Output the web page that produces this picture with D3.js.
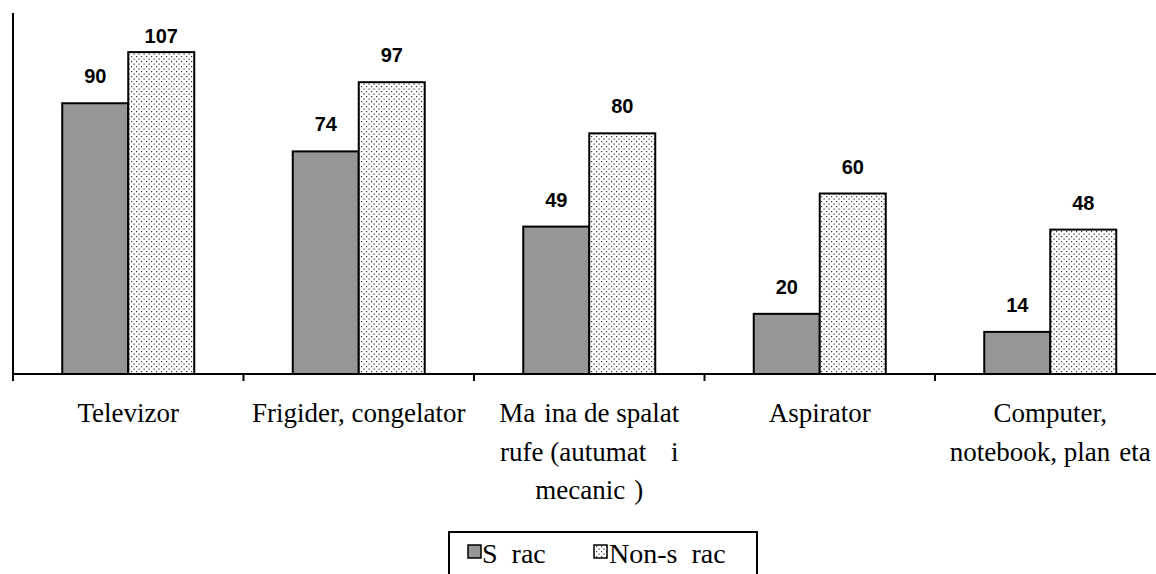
<!DOCTYPE html>
<html>
<head>
<meta charset="utf-8">
<script src="https://cdnjs.cloudflare.com/ajax/libs/d3/7.8.5/d3.min.js"></script>
<style>
  html, body { margin: 0; padding: 0; background: #fff; }
  svg { display: block; }
  .cat { font-family: "Liberation Serif", "Times New Roman", serif; font-size: 27px; fill: #000; white-space: pre; }
  .val { font-family: "Liberation Sans", Arial, sans-serif; font-weight: bold; font-size: 20px; fill: #000; }
  .leg { font-family: "Liberation Serif", "Times New Roman", serif; font-size: 28px; fill: #000; white-space: pre; }
</style>
</head>
<body>
<svg id="chart" width="1156" height="574"></svg>
<script>
// ---- data ----
const categories = [
  "Televizor",
  "Frigider, congelator",
  "Ma\u2004ina de spalat\nrufe (autumat\u2004 \u2004i\nmecanic\u2004)",
  "Aspirator",
  "Computer,\nnotebook, plan\u2004eta"
];
const seriesNames = ["S\u2002rac", "Non-s\u2002rac"];
const saracValues = [90, 74, 49, 20, 14];
const nonSaracValues = [107, 97, 80, 60, 48];
const yDomain = [0, 120];

// ---- layout ----
const svg = d3.select("#chart");
const x0 = 13, band = 230.5;
const baseY = 374, topY = 13;

const x = d3.scaleBand().domain(categories).range([x0, x0 + band * categories.length]).paddingInner(0).paddingOuter(0);
const y = d3.scaleLinear().domain(yDomain).range([baseY, topY]);
const barW = 66;

// pattern
const defs = svg.append("defs");
const pat = defs.append("pattern").attr("id", "dots").attr("patternUnits", "userSpaceOnUse")
  .attr("width", 5).attr("height", 5);
pat.append("rect").attr("width", 5).attr("height", 5).attr("fill", "#fff");
pat.append("rect").attr("x", 1).attr("y", 1).attr("width", 1.2).attr("height", 1.2).attr("fill", "#333");
pat.append("rect").attr("x", 3.5).attr("y", 3.5).attr("width", 1.2).attr("height", 1.2).attr("fill", "#333");

const series = [
  { name: seriesNames[0], values: saracValues, fill: "#969696", offset: -1 },
  { name: seriesNames[1], values: nonSaracValues, fill: "url(#dots)", offset: 0 }
];

series.forEach(s => {
  const g = svg.append("g");
  g.selectAll("rect").data(categories).join("rect")
    .attr("x", (d) => x(d) + x.bandwidth() / 2 + s.offset * barW)
    .attr("y", (d, i) => y(s.values[i]))
    .attr("width", barW)
    .attr("height", (d, i) => baseY - y(s.values[i]))
    .attr("fill", s.fill)
    .attr("stroke", "#000")
    .attr("stroke-width", 2);
  g.selectAll("text").data(categories).join("text")
    .attr("class", "val")
    .attr("text-anchor", "middle")
    .attr("x", (d) => x(d) + x.bandwidth() / 2 + s.offset * barW + barW / 2)
    .attr("y", (d, i) => Math.max(y(s.values[i]) - 20, 43))
    .text((d, i) => s.values[i]);
});

// axes
const xAxis = d3.axisBottom(x).tickSize(0).tickFormat("");
const gx = svg.append("g").attr("transform", `translate(0,${baseY})`).call(xAxis);
gx.select(".domain").attr("stroke", "#000").attr("stroke-width", 2).attr("d", `M${x0},0H1156`);
const boundaries = categories.map(c => x(c));
gx.selectAll(".bt").data(boundaries).join("line").attr("class", "bt")
  .attr("x1", d => d).attr("x2", d => d).attr("y1", 0).attr("y2", 7)
  .attr("stroke", "#000").attr("stroke-width", 2);

const yAxis = d3.axisLeft(y).tickSize(0).tickFormat("").ticks(0);
const gy = svg.append("g").attr("transform", `translate(${x0},0)`).call(yAxis);
gy.select(".domain").attr("stroke", "#000").attr("stroke-width", 2).attr("d", `M0,${topY}V${baseY + 7}`);

// category labels
const lineH = 38.5;
categories.forEach(c => {
  const lines = c.split("\n");
  const t = svg.append("text").attr("class", "cat").attr("text-anchor", "middle");
  lines.forEach((ln, i) => {
    t.append("tspan").attr("x", x(c) + x.bandwidth() / 2).attr("y", 422 + i * lineH).text(ln);
  });
});

// legend
const leg = svg.append("g");
leg.append("rect").attr("x", 449).attr("y", 532).attr("width", 308).attr("height", 60)
  .attr("fill", "#fff").attr("stroke", "#000").attr("stroke-width", 2);
const legItems = [
  { name: seriesNames[0], fill: "#969696", sx: 468, tx: 482 },
  { name: seriesNames[1], fill: "url(#dots)", sx: 594, tx: 609 }
];
legItems.forEach(it => {
  leg.append("rect").attr("x", it.sx).attr("y", 545).attr("width", 13).attr("height", 13)
    .attr("fill", it.fill).attr("stroke", "#000").attr("stroke-width", 1.5);
  leg.append("text").attr("class", "leg").attr("x", it.tx).attr("y", 563).text(it.name);
});
</script>
</body>
</html>
